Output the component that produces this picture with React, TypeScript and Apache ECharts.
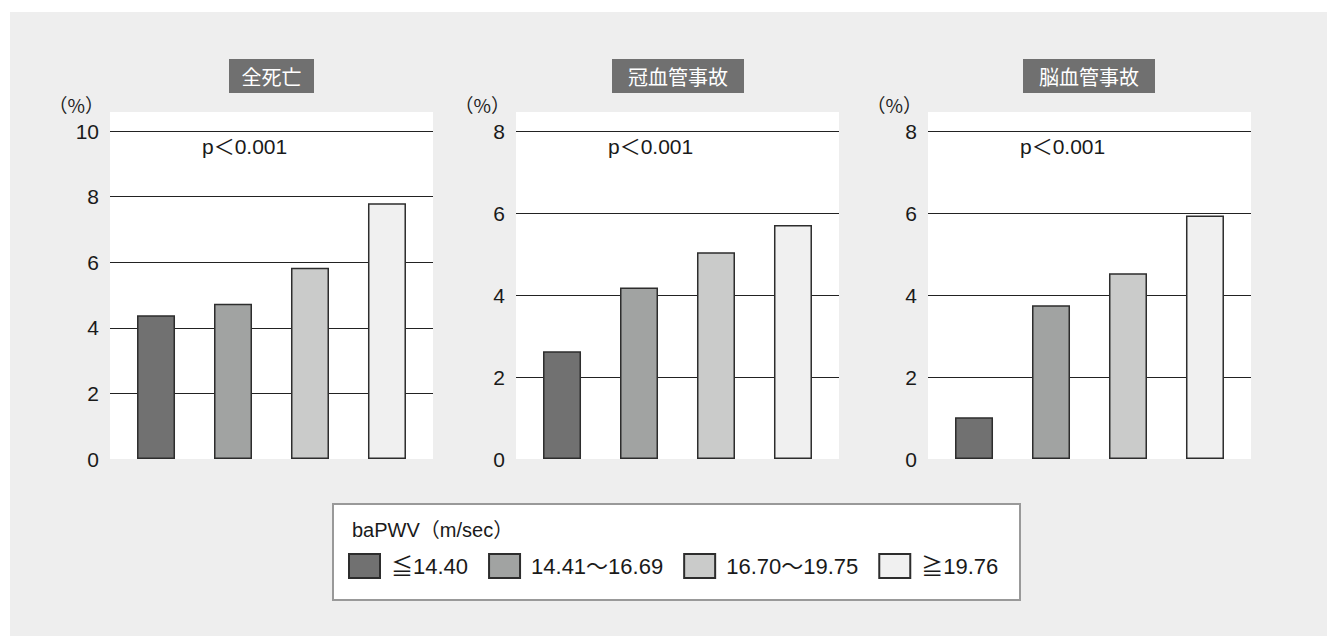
import React, { useEffect, useRef } from "react";
import * as echarts from "echarts";

const categories = ["全死亡", "冠血管事故", "脳血管事故"];
const groups = ["≦14.40", "14.41〜16.69", "16.70〜19.75", "≧19.76"];
const allDeath = [4.38, 4.73, 5.83, 7.8];
const coronary = [2.63, 4.18, 5.04, 5.71];
const cerebral = [1.02, 3.75, 4.53, 5.94];
const yMax = [10, 8, 8];
const yInterval = 2;
const pValueText = "p＜0.001";
const yUnit = "（%）";
const legendTitle = "baPWV（m/sec）";

const panelValues = [allDeath, coronary, cerebral];
const colors = ["#717171", "#a1a3a2", "#cacbca", "#f0f0f0"];
const LATIN = "'Liberation Sans', 'Noto Sans CJK JP', sans-serif";
const CJK = "'Noto Sans CJK JP', sans-serif";

const gridLefts = [110, 516, 928];
const gridWidth = 323;
const gridTop = 131;
const gridHeight = 328;
const whiteTop = 112;
const titleBoxes = [
  { x: 229, w: 85 },
  { x: 612, w: 132 },
  { x: 1023, w: 132 },
];

export default function App() {
  const ref = useRef<HTMLDivElement>(null);
  useEffect(() => {
    if (!ref.current) return;
    const chart = echarts.init(ref.current, undefined, { renderer: "svg" });

    const grid = gridLefts.map((left) => ({
      left,
      top: gridTop,
      width: gridWidth,
      height: gridHeight,
    }));
    const xAxis = categories.map((c, i) => ({
      type: "category",
      gridIndex: i,
      data: [c],
      show: false,
    }));
    const yAxis = yMax.map((m, i) => ({
      type: "value",
      gridIndex: i,
      min: 0,
      max: m,
      interval: yInterval,
      name: yUnit,
      nameLocation: "end",
      nameGap: 17,
      nameTextStyle: {
        align: "right",
        fontSize: 19,
        color: "#222",
        fontFamily: CJK,
        padding: [0, 6, 0, 0],
      },
      axisLine: { show: false },
      axisTick: { show: false },
      axisLabel: { fontSize: 21, color: "#1a1a1a", margin: 11, fontFamily: LATIN },
      splitLine: { show: true, showMinLine: false, lineStyle: { color: "#222", width: 1 } },
    }));
    const series: any[] = [];
    panelValues.forEach((vals, i) => {
      vals.forEach((v, j) => {
        series.push({
          type: "bar",
          name: groups[j],
          xAxisIndex: i,
          yAxisIndex: i,
          data: [v],
          barWidth: 38,
          barGap: "102.6%",
          itemStyle: { color: colors[j], borderColor: "#2d2d2d", borderWidth: 1.5 },
        });
      });
    });

    const graphic: any[] = [
      {
        type: "rect",
        z: -20,
        shape: { x: 10, y: 12, width: 1327, height: 636 },
        style: { fill: "#eeeeee" },
      },
    ];
    gridLefts.forEach((left, i) => {
      graphic.push({
        type: "rect",
        z: -10,
        shape: { x: left, y: whiteTop, width: gridWidth, height: gridTop + gridHeight - whiteTop },
        style: { fill: "#ffffff" },
      });
      graphic.push({
        type: "rect",
        z: 10,
        shape: { x: titleBoxes[i].x, y: 59, width: titleBoxes[i].w, height: 34 },
        style: { fill: "#707070" },
      });
      graphic.push({
        type: "text",
        z: 11,
        x: titleBoxes[i].x + titleBoxes[i].w / 2,
        y: 76,
        style: {
          text: categories[i],
          fill: "#ffffff",
          fontSize: 20,
          fontFamily: CJK,
          align: "center",
          verticalAlign: "middle",
        },
      });
      graphic.push({
        type: "text",
        z: 11,
        x: left + 92,
        y: 146,
        style: {
          text: pValueText,
          fill: "#1a1a1a",
          fontSize: 21,
          fontFamily: LATIN,
          align: "left",
          verticalAlign: "middle",
        },
      });
    });
    graphic.push({
      type: "rect",
      z: -5,
      shape: { x: 333, y: 504, width: 687, height: 96 },
      style: { fill: "#ffffff", stroke: "#999999", lineWidth: 2 },
    });
    graphic.push({
      type: "text",
      z: 11,
      x: 352,
      y: 530,
      style: {
        text: legendTitle,
        fill: "#1a1a1a",
        fontSize: 20,
        fontFamily: LATIN,
        align: "left",
        verticalAlign: "middle",
      },
    });

    chart.setOption({
      animation: false,
      backgroundColor: "#ffffff",
      grid,
      xAxis,
      yAxis,
      series,
      graphic,
      legend: {
        data: groups,
        left: 348,
        top: 553,
        padding: 0,
        itemWidth: 31,
        itemHeight: 24,
        itemGap: 20,
        icon: "rect",
        selectedMode: false,
        textStyle: { fontSize: 22, color: "#1a1a1a", fontFamily: LATIN, padding: [0, 0, 0, 6] },
      },
    });
    return () => chart.dispose();
  }, []);
  return (
    <div
      ref={ref}
      style={{ position: "fixed", left: 0, top: 0, width: 1327, height: 636 }}
    />
  );
}
